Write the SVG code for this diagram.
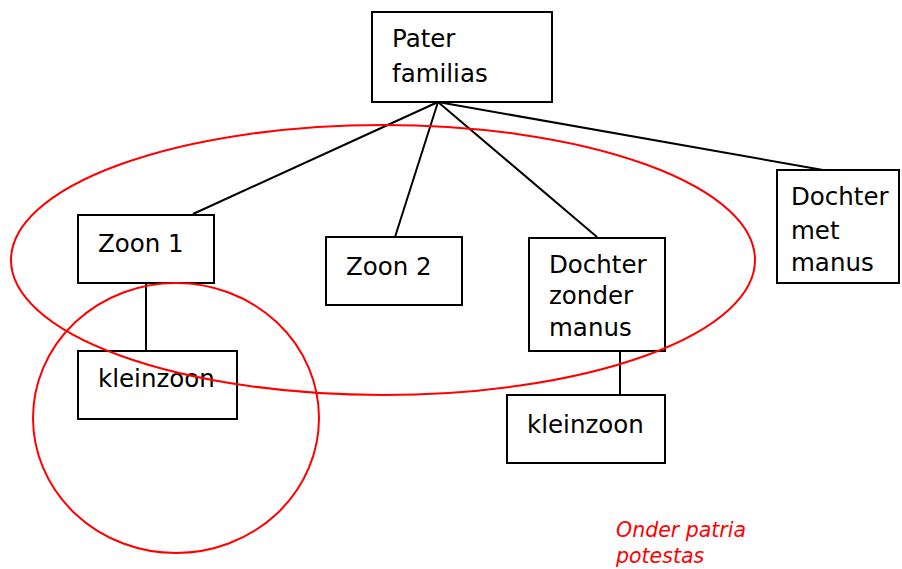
<svg xmlns="http://www.w3.org/2000/svg" width="902" height="569" viewBox="0 0 902 569">
  <style>
    .box { fill: #ffffff; stroke: #000000; stroke-width: 2; }
    .lbl { font-family: "DejaVu Sans", Verdana, sans-serif; font-size: 24.5px; fill: #000000; }
    .link { stroke: #000000; stroke-width: 2; fill: none; }
    .ring { fill: none; stroke: #ff0000; stroke-width: 2; }
    .note { font-family: "DejaVu Sans", Verdana, sans-serif; font-size: 20.5px; font-style: italic; fill: #ff0000; }
  </style>
  <rect width="902" height="569" fill="#ffffff"/>

  <!-- connectors -->
  <g id="connectors">
    <line class="link" x1="438" y1="102" x2="193" y2="214"/>
    <line class="link" x1="438" y1="102" x2="395" y2="237"/>
    <line class="link" x1="438" y1="102" x2="597" y2="237"/>
    <line class="link" x1="438" y1="102" x2="823" y2="170"/>
    <line class="link" x1="146" y1="283" x2="146" y2="351"/>
    <line class="link" x1="620" y1="351" x2="620" y2="395"/>
  </g>

  <g id="pater">
    <rect class="box" x="372" y="12" width="180" height="90"/>
    <text class="lbl" x="392" y="47">Pater</text>
    <text class="lbl" x="392" y="82">familias</text>
  </g>

  <g id="zoon1">
    <rect class="box" x="78" y="215" width="136" height="68"/>
    <text class="lbl" x="98" y="252">Zoon 1</text>
  </g>

  <g id="zoon2">
    <rect class="box" x="326" y="237" width="136" height="68"/>
    <text class="lbl" x="346" y="275">Zoon 2</text>
  </g>

  <g id="dochter-zonder">
    <rect class="box" x="529" y="238" width="136" height="113"/>
    <text class="lbl" x="549" y="273">Dochter</text>
    <text class="lbl" x="549" y="304">zonder</text>
    <text class="lbl" x="549" y="336">manus</text>
  </g>

  <g id="dochter-met">
    <rect class="box" x="777" y="170" width="122" height="113"/>
    <text class="lbl" x="791" y="205">Dochter</text>
    <text class="lbl" x="791" y="239">met</text>
    <text class="lbl" x="791" y="271">manus</text>
  </g>

  <g id="kleinzoon1">
    <rect class="box" x="78" y="351" width="159" height="68"/>
    <text class="lbl" x="98" y="387">kleinzoon</text>
  </g>

  <g id="kleinzoon2">
    <rect class="box" x="507" y="395" width="158" height="68"/>
    <text class="lbl" x="527" y="433">kleinzoon</text>
  </g>

  <!-- groupings -->
  <g id="groups">
    <ellipse class="ring" cx="383" cy="260" rx="372" ry="135"/>
    <ellipse class="ring" cx="176" cy="418" rx="143" ry="135"/>
    <text class="note" x="616" y="537">Onder patria</text>
    <text class="note" x="616" y="563">potestas</text>
  </g>
</svg>
